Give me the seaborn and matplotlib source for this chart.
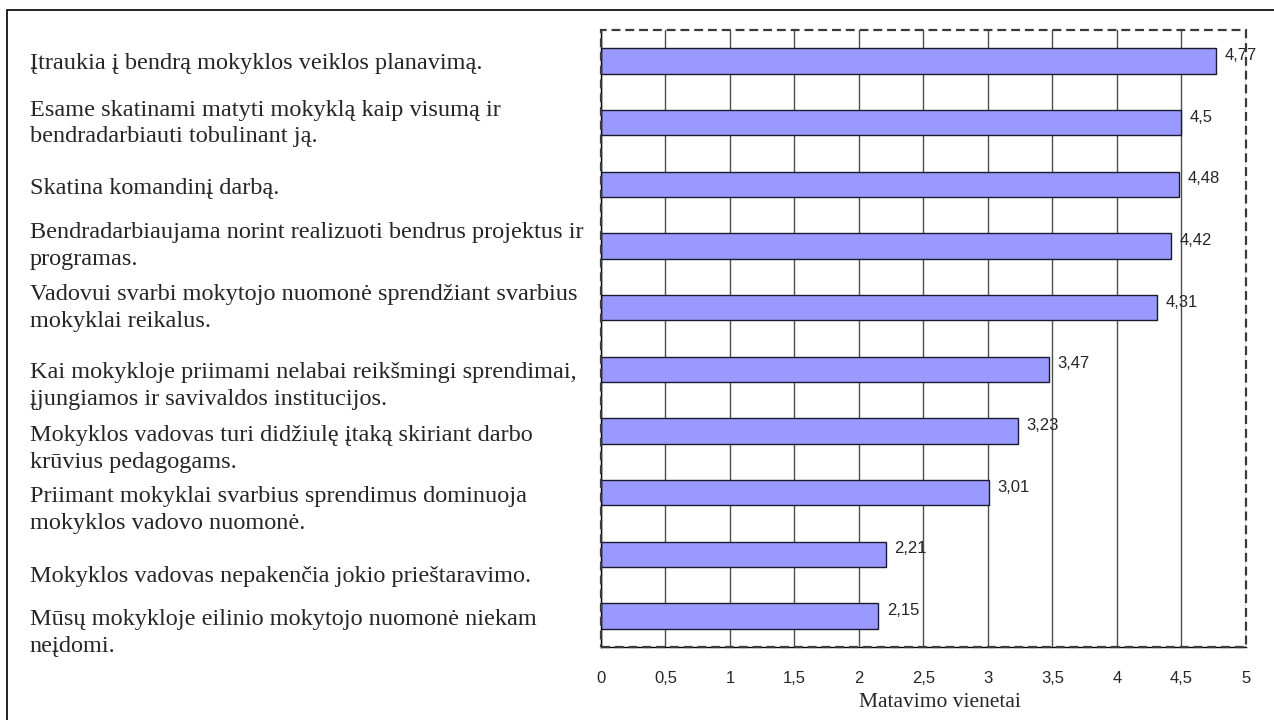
import numpy as np
import pandas as pd
import matplotlib
matplotlib.use("Agg")
import matplotlib.pyplot as plt
import matplotlib.transforms as mtransforms
from matplotlib.patches import Rectangle
import seaborn as sns

# Survey statements (top to bottom) and their mean scores
statements = [
    "Įtraukia į bendrą mokyklos veiklos planavimą.",
    "Esame skatinami matyti mokyklą kaip visumą ir\nbendradarbiauti tobulinant ją.",
    "Skatina komandinį darbą.",
    "Bendradarbiaujama norint realizuoti bendrus projektus ir\nprogramas.",
    "Vadovui svarbi mokytojo nuomonė sprendžiant svarbius\nmokyklai reikalus.",
    "Kai mokykloje priimami nelabai reikšmingi sprendimai,\nįjungiamos ir savivaldos institucijos.",
    "Mokyklos vadovas turi didžiulę įtaką skiriant darbo\nkrūvius pedagogams.",
    "Priimant mokyklai svarbius sprendimus dominuoja\nmokyklos vadovo nuomonė.",
    "Mokyklos vadovas nepakenčia jokio prieštaravimo.",
    "Mūsų mokykloje eilinio mokytojo nuomonė niekam\nneįdomi.",
]
scores = [4.77, 4.5, 4.48, 4.42, 4.31, 3.47, 3.23, 3.01, 2.21, 2.15]
x_ticks = [0, 0.5, 1, 1.5, 2, 2.5, 3, 3.5, 4, 4.5, 5]
x_label = "Matavimo vienetai"

df = pd.DataFrame({"statement": statements, "score": scores})

sns.set_style("white")
plt.rcParams["font.family"] = ["Liberation Sans", "DejaVu Sans"]
serif = ["Liberation Serif", "DejaVu Serif"]

fig = plt.figure(figsize=(12.74, 7.2), dpi=100)
ax = fig.add_axes([0.4717, 0.1014, 0.5063, 0.8569])

sns.barplot(data=df, x="score", y="statement", orient="h", color="#9999FF",
            saturation=1, edgecolor="#1a1a2e", linewidth=1.0, width=0.41, ax=ax)

n = len(statements)
ax.set_xlim(0, 5)
ax.set_ylim(n - 0.5, -0.5)

# vertical grid lines
ax.set_axisbelow(True)
ax.xaxis.grid(True, color="#4d4d4d", linewidth=1.0)
ax.yaxis.grid(False)

ax.set_xticks(x_ticks)
ax.set_xticklabels([f"{t:g}".replace(".", ",") for t in x_ticks], fontsize=12)
ax.set_yticks(np.arange(-0.5, n, 1.0))
ax.set_yticklabels([])
ax.tick_params(axis="x", direction="out", length=5, width=1, color="black", pad=12)
ax.tick_params(axis="y", direction="out", length=4, width=1, color="black")
ax.set_ylabel("")
ax.set_xlabel(x_label, fontsize=15.5, family=serif)
ax.xaxis.set_label_coords(0.525, -0.075)
ax.xaxis.label.set_va("top")

for side in ["top", "right"]:
    ax.spines[side].set_visible(False)
for side in ["left", "bottom"]:
    ax.spines[side].set_color("black")
    ax.spines[side].set_linewidth(1.0)

# dashed plot-area frame
ax.add_patch(Rectangle((0, 0), 1, 1, transform=ax.transAxes, fill=False,
                       edgecolor="#3a3a3a", linewidth=1.6, linestyle=(0, (4, 2.2)),
                       clip_on=False, zorder=5))

# value labels next to the bars
for i, v in enumerate(scores):
    ax.annotate(f"{v:g}".replace(".", ","), xy=(v, i), xytext=(6, 4),
                textcoords="offset points", ha="left", va="center", fontsize=12)

# statement labels on the left, aligned to a common left edge
label_shift_px = [-3, -1, -4, 0, 0, -17, -18, -17, -22, -17]
blend = mtransforms.blended_transform_factory(fig.transFigure, ax.transData)
for i, s in enumerate(statements):
    tr = blend + mtransforms.ScaledTranslation(0, label_shift_px[i] / 100, fig.dpi_scale_trans)
    ax.text(0.0235, i, s, transform=tr, ha="left", va="center", fontsize=17.5,
            family=serif, linespacing=1.365)

# outer chart frame
fig.patches.append(Rectangle((7 / 1274, -0.1), 1.2, 1.1 - 10 / 720,
                             transform=fig.transFigure, fill=False,
                             edgecolor="black", linewidth=1.2))

fig.savefig("out.png", dpi=100)
